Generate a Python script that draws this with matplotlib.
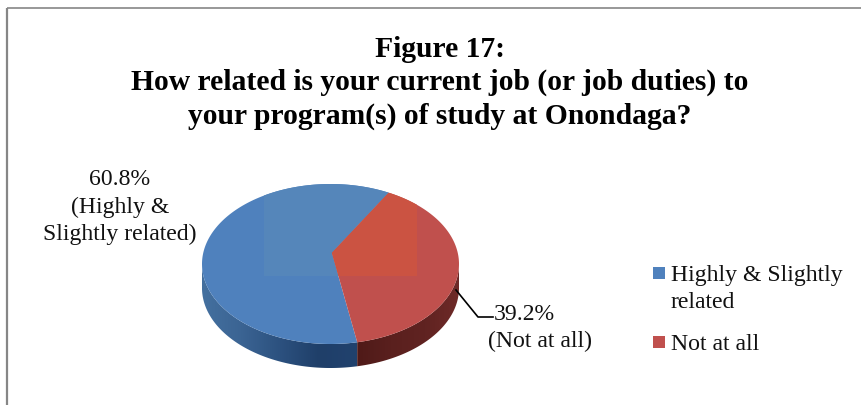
import numpy as np
import matplotlib
matplotlib.use('Agg')
import matplotlib.pyplot as plt
from matplotlib.patches import Polygon, Rectangle
from matplotlib.colors import LinearSegmentedColormap

labels = ["Highly & Slightly\nrelated", "Not at all"]
values = [60.8, 39.2]
colors = ["#4f81bd", "#c0504d"]
light_colors = ["#5586ba", "#cb5342"]
title = "Figure 17:\nHow related is your current job (or job duties) to\nyour program(s) of study at Onondaga?"

W, H = 862, 405
plt.rcParams['font.family'] = ['Liberation Serif', 'DejaVu Serif']
fig = plt.figure(figsize=(W/100, H/100), dpi=100)

# page axes in pixels, y going down like the picture
page = fig.add_axes([0, 0, 1, 1])
page.set_xlim(0, W)
page.set_ylim(H, 0)
page.axis('off')

# border of the chart, only left and top show
page.plot([7, 7], [H, 8], color="#868686", lw=1.6, solid_capstyle='butt')
page.plot([7, W], [8, 8], color="#868686", lw=1.2, solid_capstyle='butt')

page.text(440, 83, title, ha='center', va='center', fontsize=21.3, fontweight='bold',
          linespacing=1.31, color='black')

# pie axes, ellipse of the top face fills it
left, right, top, bottom = 202, 459, 184, 344
wall = 24
ax = fig.add_axes([left/W, 1-(bottom+wall)/H, (right-left)/W, (bottom+wall-top)/H])
wedges, _ = ax.pie(values, colors=colors, startangle=-78, counterclock=False, radius=1)
ax.set_aspect('auto')

depth = 2*wall/(bottom-top)
vertex = (0.01, 0.14)  # perspective moves the centre of the pie up


def arc(t1, t2, n=200):
    t = np.radians(np.linspace(t1, t2, n))
    return np.column_stack([np.cos(t), np.sin(t)])


blue_map = LinearSegmentedColormap.from_list('b', ["#44709f", "#3b6493", "#2c517f", "#1f3f69", "#21426e"])
red_map = LinearSegmentedColormap.from_list('r', ["#4f1a18", "#5a201e", "#602321", "#6e2a28"])
grad = np.linspace(0, 1, 256).reshape(1, -1)

# side wall, from the front split round to the left and right edges
split = wedges[0].theta2
split_x = np.cos(np.radians(split))
for cmap, t1, t2, ext in [(blue_map, -180, split, (-1, split_x)),
                          (red_map, split, 0, (split_x, 1))]:
    up = arc(t1, t2)
    down = up[::-1] - [0, depth]
    poly = Polygon(np.vstack([up, down]), closed=True, fc='none', ec='none')
    ax.add_patch(poly)
    im = ax.imshow(grad, cmap=cmap, extent=(ext[0], ext[1], -1-depth, 1), aspect='auto', zorder=1)
    im.set_clip_path(poly)
ax.set_xlim(-1, 1)
ax.set_ylim(-1-depth, 1)

# top face, built from the pie's angles with the centre moved up
for w, col, lcol in zip(wedges, colors, light_colors):
    w.set_visible(False)
    face = Polygon(np.vstack([[vertex], arc(w.theta1, w.theta2)]), closed=True, fc=col, ec='none', zorder=3)
    ax.add_patch(face)
    x0 = -1 + 2*(264-left)/(right-left)
    x1 = -1 + 2*(417-left)/(right-left)
    y0 = 1 - 2*(276-top)/(bottom-top)
    rect = Rectangle((x0, y0), x1-x0, 2, fc=lcol, ec='none', zorder=4)
    ax.add_patch(rect)
    rect.set_clip_path(face)

page.set_zorder(5)
page.patch.set_alpha(0)

# data labels
page.text(120, 207, "%.1f%%\n(Highly &\nSlightly related)" % values[0], ha='center', va='center',
          fontsize=17.1, linespacing=1.36, color='#111111')
page.plot([456, 478, 493], [290, 317, 317], color='black', lw=1.2)
page.text(494, 314, "%.1f%%" % values[1], ha='left', va='center', fontsize=17.1, color='#111111')
page.text(540, 341, "(Not at all)", ha='center', va='center', fontsize=17.1, color='#111111')

# legend
page.add_patch(Rectangle((653, 267), 12, 12, fc=colors[0], ec='none'))
page.add_patch(Rectangle((653, 336), 12, 12, fc=colors[1], ec='none'))
page.text(671, 289, labels[0], ha='left', va='center', fontsize=17.1, linespacing=1.34, color='#111111')
page.text(671, 344, labels[1], ha='left', va='center', fontsize=17.1, color='#111111')

fig.savefig("out.png", dpi=100)
